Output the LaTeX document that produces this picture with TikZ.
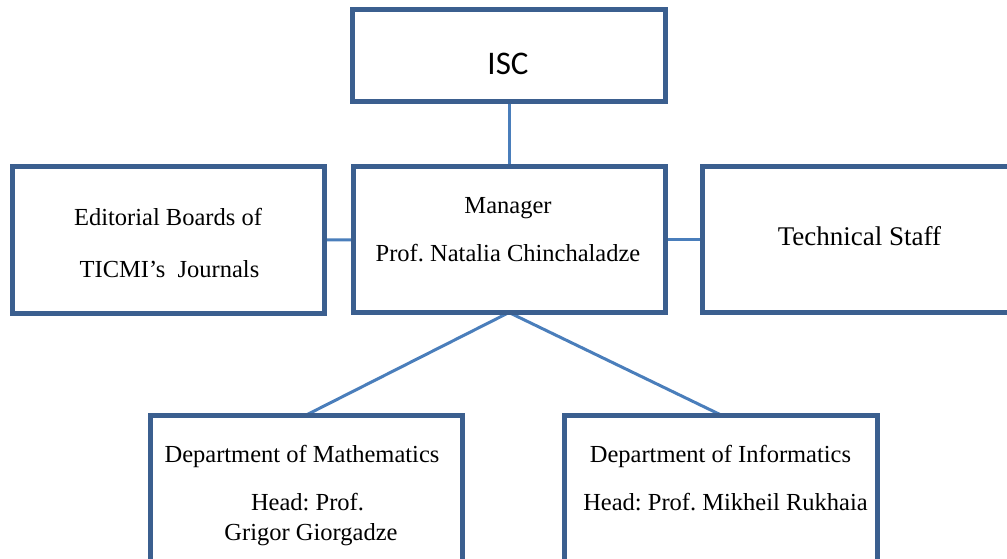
\documentclass[tikz,border=0pt]{standalone}
\usepackage{fontspec}
\setmainfont{Liberation Serif}
\newfontfamily\iscfont{Carlito}
\definecolor{boxblue}{HTML}{3B5F8F}
\definecolor{linkblue}{HTML}{4A7EBB}
\frenchspacing
\begin{document}
\begin{tikzpicture}[x=1pt,y=-1pt,
  orgbox/.style={draw=boxblue,line width=5pt,rectangle,inner sep=0pt,outer sep=0pt,anchor=north west},
  link/.style={draw=linkblue,line width=3pt},
  lbl/.style={inner sep=0pt,anchor=base,font=\fontsize{24.5}{28}\selectfont}]
\useasboundingbox (0,0) rectangle (1007,559);
\clip (0,0) rectangle (1007,559);
\fill[white] (0,0) rectangle (1007,559);
% connectors (behind boxes)
\node[orgbox,draw=none,minimum width=313pt,minimum height=91.5pt] (isc) at (352.5,10) {};
\node[orgbox,draw=none,minimum width=312pt,minimum height=145.5pt] (mgr) at (353,167) {};
\node[orgbox,draw=none,minimum width=311.5pt,minimum height=146pt] (ed) at (12.5,167) {};
\node[orgbox,draw=none,minimum width=320pt,minimum height=145.5pt] (tech) at (702.5,167) {};
\node[orgbox,draw=none,minimum width=311.5pt,minimum height=190pt] (math) at (150.5,415) {};
\node[orgbox,draw=none,minimum width=313pt,minimum height=190pt] (info) at (564.5,415) {};
\draw[link] (isc.south) -- (mgr.north);
\draw[link] (ed.east) -- (mgr.west);
\draw[link] (mgr.east) -- (tech.west);
\draw[link] (mgr.south) -- (math.north);
\draw[link] (mgr.south) -- (info.north);
% box outlines
\draw[boxblue,line width=5pt] (isc.north west) rectangle (isc.south east);
\draw[boxblue,line width=5pt] (mgr.north west) rectangle (mgr.south east);
\draw[boxblue,line width=5pt] (ed.north west) rectangle (ed.south east);
\draw[boxblue,line width=5pt] (tech.north west) rectangle (tech.south east);
\draw[boxblue,line width=5pt] (math.north west) rectangle (math.south east);
\draw[boxblue,line width=5pt] (info.north west) rectangle (info.south east);
% texts
\node[inner sep=0pt,anchor=base,font=\iscfont\fontsize{33}{36}\selectfont] (tisc) at (508,75) {ISC};
\node[lbl] (tmgr1) at (508,213) {Manager};
\node[lbl] (tmgr2) at (508,261) {Prof. Natalia Chinchaladze};
\node[lbl] (ted1) at (168,225) {Editorial Boards of};
\node[lbl] (ted2) at (169.5,277) {TICMI’s~ Journals};
\node[lbl,font=\fontsize{27}{30}\selectfont] (ttech) at (859.5,245) {Technical Staff};
\node[lbl] (tmath1) at (302,462) {Department of Mathematics};
\node[lbl] (tmath2) at (307.5,510) {Head: Prof.};
\node[lbl] (tmath3) at (311,540) {Grigor Giorgadze};
\node[lbl] (tinfo1) at (720.5,462) {Department of Informatics};
\node[lbl] (tinfo2) at (725.5,510) {Head: Prof. Mikheil Rukhaia};
\end{tikzpicture}
\end{document}
